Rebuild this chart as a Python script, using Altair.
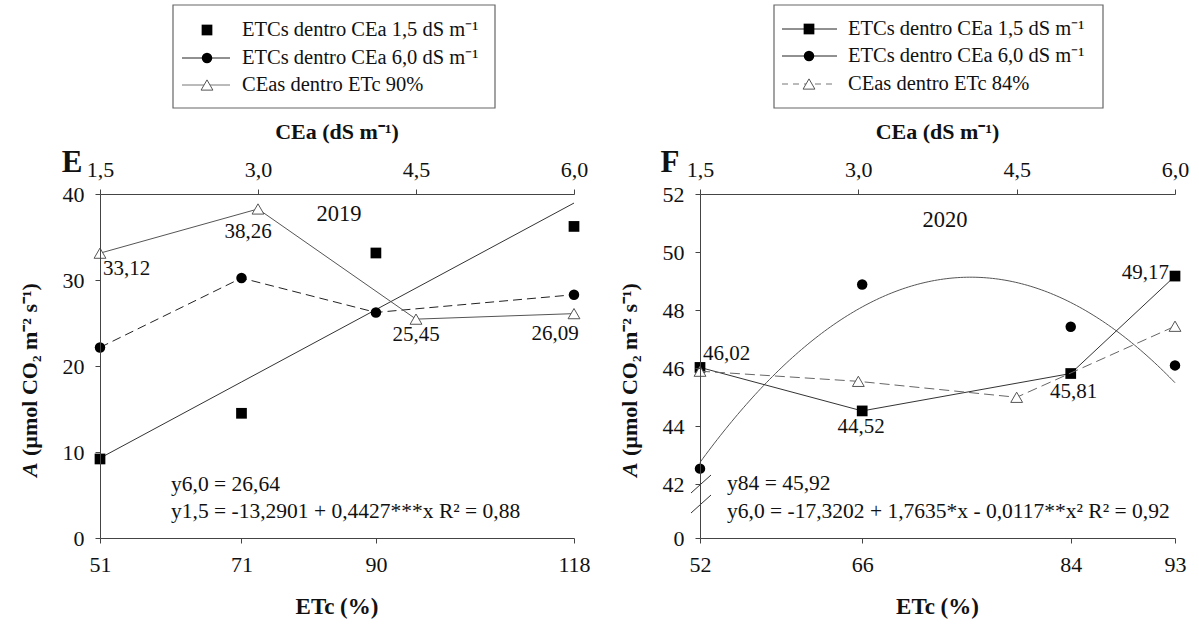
import altair as alt
import pandas as pd

# ---------------- data ----------------
# 2019 (panel E)
etc_2019 = [51, 71, 90, 118]
a_ce15_2019 = [9.19, 14.5, 33.14, 36.23]
a_ce60_2019 = [22.16, 30.23, 26.23, 28.29]
cea_levels = [1.5, 3.0, 4.5, 6.0]
a_etc90_2019 = [33.12, 38.26, 25.45, 26.09]
fit15_2019 = [-13.2901, 0.4427]          # y1,5 = b0 + b1*x
mean60_2019 = 26.64

# 2020 (panel F)
etc_2020 = [52, 66, 84, 93]
a_ce15_2020 = [46.02, 44.52, 45.81, 49.17]
a_ce60_2020 = [42.53, 48.88, 47.42, 46.09]
a_etc84_2020 = [45.89, 45.54, 44.99, 47.44]
fit60_2020 = [-17.3202, 1.7635, -0.0117]  # y6,0 = b0 + b1*x + b2*x^2
mean84_2020 = 45.92

yticks_2019 = [0, 10, 20, 30, 40]
yticks_2020 = [0, 42, 44, 46, 48, 50, 52]

# ---------------- styling ----------------
FONT = "Liberation Serif"
INK = "#111111"
W1, W2, H = 474, 475, 344
ONE = alt.Data(values=[{"k": 0}])


def comma(v, nd=2):
    return f"{v:.{nd}f}".replace(".", ",")


def text(txt, x, y, size=20, weight="normal", style="normal", align="left",
         baseline="middle", angle=0):
    return alt.Chart(ONE).mark_text(
        text=txt, font=FONT, fontSize=size, fontWeight=weight, fontStyle=style,
        align=align, baseline=baseline, angle=angle, color=INK
    ).encode(x=alt.value(x), y=alt.value(y))


def seg(x1, y1, x2, y2, color="#333", dash=None, width=1):
    kw = dict(color=color, strokeWidth=width)
    if dash:
        kw["strokeDash"] = dash
    return alt.Chart(ONE).mark_rule(**kw).encode(
        x=alt.value(x1), x2=alt.value(x2), y=alt.value(y1), y2=alt.value(y2))


SQUARE = dict(shape="square", filled=True, size=115, color="black", opacity=1)
CIRCLE = dict(shape="circle", filled=True, size=110, color="black", opacity=1)
TRIANGLE = dict(shape="triangle-up", filled=True, fill="white", stroke="#555",
                strokeWidth=1, size=140, opacity=1)


def sym(x, y, style):
    return alt.Chart(ONE).mark_point(**style).encode(x=alt.value(x), y=alt.value(y))


def legend(box_x1, box_x2, rows_y, line_x1, line_x2, sym_x, text_x, entries):
    layers = [alt.Chart(ONE).mark_rect(fill="white", stroke="#666", strokeWidth=1.2).encode(
        x=alt.value(box_x1), x2=alt.value(box_x2), y=alt.value(-189), y2=alt.value(-86))]
    for ry, (label, line, dash, lcolor, style) in zip(rows_y, entries):
        if line:
            layers.append(seg(line_x1, ry, line_x2, ry, color=lcolor, dash=dash))
        layers.append(sym(sym_x, ry, style))
        layers.append(text(label, text_x, ry, size=20.5))
    return layers


def ytitle(x, y):
    return [
        text("A", x, y, size=22, weight="bold", style="italic", angle=270),
        text("(µmol CO₂ m⁻² s⁻¹)", x, y - 21, size=22, weight="bold", angle=270),
    ]


def axis(**kw):
    return alt.Axis(title=None, zindex=1, labelFlush=False, **kw)


LBL = "replace(format(datum.a, '.2f'), '.', ',')"
TOP_FMT = "replace(format(datum.value, '.1f'), '.', ',')"

# ---------------- panel E (2019) ----------------
y19 = alt.Scale(domain=[0, 40], nice=False, zero=False)
yax19 = axis(values=yticks_2019, labelPadding=11)
x19 = alt.X("etc:Q", scale=alt.Scale(domain=[51, 118], nice=False, zero=False),
            axis=axis(values=etc_2019, orient="bottom", format="d", labelPadding=11))
xc19 = alt.X("cea:Q", scale=alt.Scale(domain=[1.5, 6.0], nice=False, zero=False),
             axis=axis(values=cea_levels, orient="top", labelExpr=TOP_FMT, labelPadding=8))

d19 = pd.DataFrame({"etc": etc_2019, "a15": a_ce15_2019, "a60": a_ce60_2019})
t19 = pd.DataFrame({"cea": cea_levels, "a": a_etc90_2019})

bottom19 = alt.layer(
    alt.Chart(d19).transform_calculate(fit=f"{fit15_2019[0]} + {fit15_2019[1]}*datum.etc")
    .mark_line(color="#333", strokeWidth=1)
    .encode(x=x19, y=alt.Y("fit:Q", scale=y19, axis=yax19)),
    alt.Chart(d19).mark_line(color="#222", strokeWidth=1, strokeDash=[9, 5])
    .encode(x=x19, y=alt.Y("a60:Q", scale=y19, axis=yax19)),
    alt.Chart(d19).mark_point(**SQUARE).encode(x=x19, y=alt.Y("a15:Q", scale=y19, axis=yax19)),
    alt.Chart(d19).mark_point(**CIRCLE).encode(x=x19, y=alt.Y("a60:Q", scale=y19, axis=yax19)),
)

tri_lbl19 = [(3, 16, "left"), (-10, 23, "center"), (0, 16, "center"), (-19, 20, "center")]
top19 = alt.layer(
    alt.Chart(t19).mark_line(color="#555", strokeWidth=1)
    .encode(x=xc19, y=alt.Y("a:Q", scale=y19, axis=yax19)),
    alt.Chart(t19).mark_point(**TRIANGLE).encode(x=xc19, y=alt.Y("a:Q", scale=y19, axis=yax19)),
    *[
        alt.Chart(t19.iloc[[i]]).transform_calculate(lbl=LBL)
        .mark_text(font=FONT, fontSize=21, color=INK, dx=dx, dy=dy, align=al, baseline="middle")
        .encode(x=xc19, y=alt.Y("a:Q", scale=y19, axis=yax19), text="lbl:N")
        for i, (dx, dy, al) in enumerate(tri_lbl19)
    ],
)

# transparent frame spanning the whole canvas; fixes the overall layout extent
bg = alt.Chart(ONE).mark_rect(fill="white", opacity=0).encode(
    x=alt.value(-100), x2=alt.value(1099), y=alt.value(-194), y2=alt.value(431))

leg19 = legend(73, 395, [-164, -136, -109], 82, 130, 107, 142, [
    ("ETCs dentro CEa 1,5 dS m⁻¹", False, None, "#222", SQUARE),
    ("ETCs dentro CEa 6,0 dS m⁻¹", True, None, "#222", CIRCLE),
    ("CEas dentro ETc 90%", True, None, "#777", TRIANGLE),
])

eq19a = f"y6,0 = {comma(mean60_2019)}"
eq19b = (f"y1,5 = {comma(fit15_2019[0], 4)} + {comma(fit15_2019[1], 4)}***x R² = 0,88")

panel_e = alt.layer(
    bg, bottom19, top19,
    text("2019", 239, 20, size=22.5, align="center"),
    text(eq19a, 71, 291, size=21.5),
    text(eq19b, 71, 318, size=21.5),
    text("E", -28, -31, size=31, weight="bold", align="center"),
    text("CEa (dS m⁻¹)", W1 / 2, -62, size=22, weight="bold", align="center"),
    text("ETc (%)", W1 / 2, 413, size=23, weight="bold", align="center"),
    *ytitle(-70, 283),
    *leg19,
).resolve_scale(x="independent").properties(width=W1, height=H)

# ---------------- panel F (2020) ----------------
# broken axis: 0 sits just below the 42..52 band
y20 = alt.Scale(domain=[0, 42, 52], range=[H, 290, 0], nice=False, zero=False)
yax20 = axis(values=yticks_2020, labelPadding=11)
x20 = alt.X("etc:Q", scale=alt.Scale(domain=[52, 93], nice=False, zero=False),
            axis=axis(values=etc_2020, orient="bottom", format="d", labelPadding=11))
xc20 = alt.X("cea:Q", scale=alt.Scale(domain=[1.5, 6.0], nice=False, zero=False),
             axis=axis(values=cea_levels, orient="top", labelExpr=TOP_FMT, labelPadding=8))

d20 = pd.DataFrame({"etc": etc_2020, "a": a_ce15_2020, "a60": a_ce60_2020})
t20 = pd.DataFrame({"cea": cea_levels, "a": a_etc84_2020})

b0, b1, b2 = fit60_2020
sq_lbl20 = [(3, -13, "left"), (-1, 16, "center"), (3, 18, "center"), (-6, -3, "right")]
bottom20 = alt.layer(
    alt.Chart(alt.sequence(52, 93.01, 0.25, as_="etc"))
    .transform_calculate(fit=f"{b0} + {b1}*datum.etc + ({b2})*datum.etc*datum.etc")
    .mark_line(color="#555", strokeWidth=1)
    .encode(x=x20, y=alt.Y("fit:Q", scale=y20, axis=yax20)),
    alt.Chart(d20).mark_line(color="#333", strokeWidth=1)
    .encode(x=x20, y=alt.Y("a:Q", scale=y20, axis=yax20)),
    alt.Chart(d20).mark_point(**SQUARE).encode(x=x20, y=alt.Y("a:Q", scale=y20, axis=yax20)),
    alt.Chart(d20).mark_point(**CIRCLE).encode(x=x20, y=alt.Y("a60:Q", scale=y20, axis=yax20)),
    *[
        alt.Chart(d20.iloc[[i]]).transform_calculate(lbl=LBL)
        .mark_text(font=FONT, fontSize=21, color=INK, dx=dx, dy=dy, align=al, baseline="middle")
        .encode(x=x20, y=alt.Y("a:Q", scale=y20, axis=yax20), text="lbl:N")
        for i, (dx, dy, al) in enumerate(sq_lbl20)
    ],
)

top20 = alt.layer(
    alt.Chart(t20).mark_line(color="#666", strokeWidth=1, strokeDash=[10, 5])
    .encode(x=xc20, y=alt.Y("a:Q", scale=y20, axis=yax20)),
    alt.Chart(t20).mark_point(**TRIANGLE).encode(x=xc20, y=alt.Y("a:Q", scale=y20, axis=yax20)),
)

leg20 = legend(74, 403, [-165, -138, -110], 82, 137, 109, 148, [
    ("ETCs dentro CEa 1,5 dS m⁻¹", True, None, "#222", SQUARE),
    ("ETCs dentro CEa 6,0 dS m⁻¹", True, None, "#222", CIRCLE),
    ("CEas dentro ETc 84%", True, [6, 5], "#777", TRIANGLE),
])

eq20a = f"y84 = {comma(mean84_2020)}"
eq20b = (f"y6,0 = {comma(b0, 4)} + {comma(b1, 4)}*x - {comma(-b2, 4)}**x² R² = 0,92")

panel_f = alt.layer(
    bottom20, top20,
    seg(-9, 299, 11, 281, color="#333"),
    seg(-9, 319, 11, 301, color="#333"),
    text("2020", 245, 26, size=22.5, align="center"),
    text(eq20a, 27, 290, size=21.5),
    text(eq20b, 27, 318, size=21.5),
    text("F", -30, -31, size=31, weight="bold", align="center"),
    text("CEa (dS m⁻¹)", W2 / 2, -62, size=22, weight="bold", align="center"),
    text("ETc (%)", W2 / 2, 413, size=23, weight="bold", align="center"),
    *ytitle(-70, 283),
    *leg20,
).resolve_scale(x="independent").properties(width=W2, height=H)

chart = (
    alt.hconcat(panel_e, panel_f, spacing=126, bounds="flush")
    .properties(padding=0, background="white")
    .configure_view(stroke=None)
    .configure_axis(
        labelFont=FONT, labelFontSize=22, labelColor=INK, domainColor="#444",
        tickColor="#444", tickSize=5, grid=False, domainWidth=1, tickWidth=1,
    )
)

chart.save("out.html", embed_options={"renderer": "svg", "actions": False})
